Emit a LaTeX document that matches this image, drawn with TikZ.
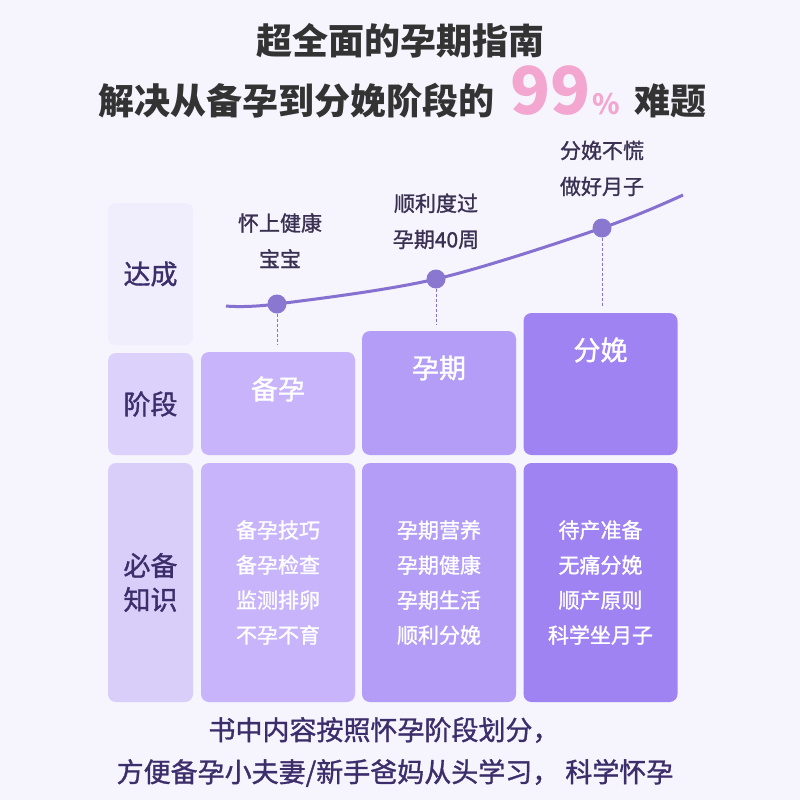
\documentclass[tikz,border=0pt]{standalone}
\usepackage{fontspec}
\setmainfont{Noto Sans CJK SC}
\newfontfamily\medfont[FakeBold=1.2]{Noto Sans CJK SC}
\usetikzlibrary{positioning}
\definecolor{bgc}{HTML}{F6F4FD}
\definecolor{titlec}{HTML}{333333}
\definecolor{pinkc}{HTML}{F3A6CF}
\definecolor{inkc}{HTML}{3C2E6B}
\definecolor{notec}{HTML}{3A3152}
\definecolor{sideA}{HTML}{F0EDFC}
\definecolor{sideB}{HTML}{DCD1FA}
\definecolor{sideC}{HTML}{D9CDFA}
\definecolor{stA}{HTML}{C8B4FB}
\definecolor{stB}{HTML}{B39DF6}
\definecolor{stC}{HTML}{A083F3}
\definecolor{curvec}{HTML}{8670D0}
\definecolor{dotc}{HTML}{8A78D0}
\begin{document}
\begin{tikzpicture}[x=1pt,y=-1pt,
    box/.style={rounded corners=8pt,inner sep=0pt,outer sep=0pt},
    side/.style={box,minimum width=85pt,text=inkc,align=center,font=\fontsize{27}{34}\medfont},
    stage/.style={box,minimum width=154pt,fill=#1},
    stagetxt/.style={text=white,inner sep=0pt,font=\fontsize{27}{30}\medfont},
    info/.style={text=white,align=center,font=\fontsize{21}{35}\medfont},
    note/.style={text=notec,align=center,inner sep=0pt,font=\fontsize{21}{36}\medfont},
    dot/.style={circle,fill=dotc,minimum size=19pt,inner sep=0pt},
    drop/.style={curvec,thick,dash pattern=on 3pt off 2pt,shorten >=7pt},
    foot/.style={text=inkc,font=\fontsize{27}{30}\medfont}]
    \useasboundingbox (0,0) rectangle (800,800);
    \fill[bgc] (0,0) rectangle (800,800);
    % titre
    \node[text=titlec,font=\fontsize{36}{40}\selectfont\bfseries,anchor=base] (t1) at (400,55) {超全面的孕期指南};
    \node[text=titlec,font=\fontsize{36}{40}\selectfont\bfseries,anchor=base] (t2) at (402,114)
        {解决从备孕到分娩阶段的\hspace{16pt}{\color{pinkc}\fontsize{66}{66}\selectfont 99}\hspace{2pt}{\color{pinkc}\fontsize{28}{28}\selectfont\%}\hspace{14pt}难题};
    % colonne de gauche
    \node[side,fill=sideA,minimum height=142pt] (goal) at (150.5,274) {达成};
    \node[side,fill=sideB,minimum height=102pt] (phase) at (150.5,404) {阶段};
    \node[side,fill=sideC,minimum height=239pt] (know) at (150.5,582.5) {必备\\知识};
    % etapes
    \node[stage=stA,minimum height=103pt] (s1) at (278,403.5) {};
    \node[stage=stB,minimum height=124pt] (s2) at (439,393) {};
    \node[stage=stC,minimum height=142pt] (s3) at (600.5,384) {};
    \node[stagetxt] (s1t) at ([yshift=-37pt]s1.north) {备孕};
    \node[stagetxt] (s2t) at ([yshift=-37pt]s2.north) {孕期};
    \node[stagetxt] (s3t) at ([yshift=-37pt]s3.north) {分娩};
    \node[stage=stA,minimum height=239pt,info] (k1) at (278,582.5) {备孕技巧\\备孕检查\\监测排卵\\不孕不育};
    \node[stage=stB,minimum height=239pt,info] (k2) at (439,582.5) {孕期营养\\孕期健康\\孕期生活\\顺利分娩};
    \node[stage=stC,minimum height=239pt,info] (k3) at (600.5,582.5) {待产准备\\无痛分娩\\顺产原则\\科学坐月子};
    % courbe
    \coordinate (c0) at (226,306);
    \coordinate (p1) at (277,304);
    \coordinate (p2) at (436,279);
    \coordinate (p3) at (602,228);
    \coordinate (c4) at (683,195);
    \draw[curvec,line width=3pt] plot[smooth,tension=0.55] coordinates {(c0) (p1) (p2) (p3) (c4)};
    \node[dot] (d1) at (p1) {};
    \node[dot] (d2) at (p2) {};
    \node[dot] (d3) at (p3) {};
    \draw[drop] (d1) -- (s1.north -| d1);
    \draw[drop] (d2) -- (s2.north -| d2);
    \draw[drop] (d3) -- (s3.north -| d3);
    \node[note,above=26pt of d1,xshift=3pt] (n1) {怀上健康\\宝宝};
    \node[note,above=20pt of d2] (n2) {顺利度过\\孕期40周};
    \node[note,above=22pt of d3] (n3) {分娩不慌\\做好月子};
    % bas
    \node[foot] (f1) at (384,730) {书中内容按照怀孕阶段划分，};
    \node[foot] (f2) at (395,773) {方便备孕小夫妻/新手爸妈从头学习， 科学怀孕};
\end{tikzpicture}
\end{document}
